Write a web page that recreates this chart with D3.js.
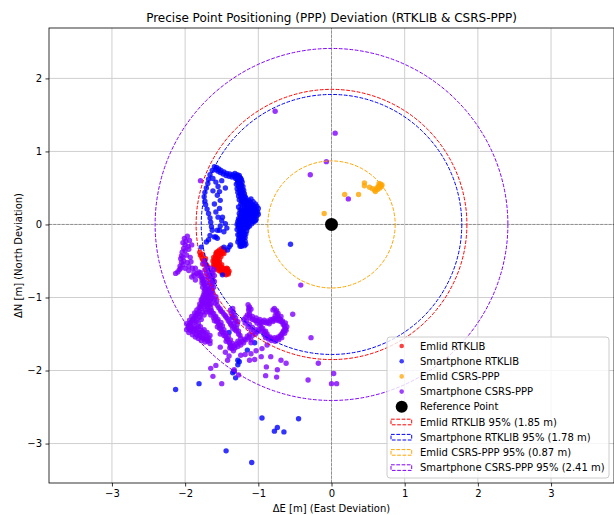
<!DOCTYPE html>
<html>
<head>
<meta charset="utf-8">
<script src="https://cdn.jsdelivr.net/npm/d3@7"></script>
<style>
  body { margin: 0; background: #fff; }
  svg { font-family: "DejaVu Sans", sans-serif; }
</style>
</head>
<body>
<div id="chart"></div>
<script>
// deviations in metres, [east, north]
const emlidRtk = [
  [-1.46,-0.36],[-1.48,-0.35],[-1.50,-0.36],[-1.52,-0.37],[-1.54,-0.39],[-1.56,-0.41],[-1.58,-0.43],
  [-1.59,-0.46],[-1.60,-0.49],[-1.60,-0.52],[-1.59,-0.55],[-1.57,-0.58],[-1.55,-0.60],[-1.52,-0.62],
  [-1.49,-0.64],[-1.46,-0.66],[-1.43,-0.67],[-1.42,-0.64],[-1.49,-0.39],[-1.52,-0.41],[-1.55,-0.44],
  [-1.56,-0.47],[-1.57,-0.50],[-1.56,-0.53],[-1.54,-0.56],[-1.51,-0.58],[-1.48,-0.60],[-1.45,-0.61],
  [-1.43,-0.60],[-1.47,-0.40],[-1.51,-0.44],[-1.53,-0.48],[-1.53,-0.52],[-1.50,-0.55],[-1.44,-0.63],
  [-1.45,-0.68],[-1.41,-0.66],[-1.57,-0.38],[-1.55,-0.37],
  [-1.47,-0.34],[-1.50,-0.33],[-1.53,-0.35],[-1.56,-0.39],[-1.58,-0.40],[-1.61,-0.45],[-1.62,-0.50],
  [-1.61,-0.55],[-1.60,-0.58],[-1.57,-0.61],[-1.54,-0.63],[-1.51,-0.65],[-1.48,-0.67],[-1.44,-0.69],
  [-1.41,-0.68],[-1.40,-0.64],[-1.42,-0.61],[-1.55,-0.50],[-1.58,-0.47],
  [-1.80,-0.38],[-1.79,-0.42],[-1.77,-0.46],[-1.75,-0.49],[-1.73,-0.52],[-1.71,-0.55],[-1.69,-0.58],
  [-1.76,-0.41],[-1.72,-0.47]
];

const phoneRtk = [
  [-1.60,0.79],[-1.57,0.78],[-1.54,0.76],[-1.51,0.74],[-1.47,0.72],[-1.43,0.70],[-1.39,0.69],[-1.35,0.68],
  [-1.58,0.75],[-1.55,0.73],[-1.52,0.71],[-1.48,0.69],[-1.44,0.67],[-1.40,0.66],[-1.36,0.65],[-1.33,0.66],
  [-1.32,0.70],
  [-1.63,0.74],[-1.66,0.68],[-1.68,0.62],[-1.69,0.56],[-1.71,0.50],[-1.73,0.44],[-1.74,0.38],[-1.73,0.32],
  [-1.72,0.27],[-1.70,0.21],[-1.68,0.15],[-1.66,0.09],[-1.65,0.03],[-1.64,-0.03],[-1.63,-0.08],[-1.66,-0.15],
  [-1.68,-0.21],
  [-1.62,0.63],[-1.58,0.58],[-1.55,0.52],[-1.53,0.45],[-1.56,0.40],[-1.52,0.33],[-1.60,0.28],[-1.58,0.17],
  [-1.49,0.10],[-1.53,0.22],[-1.45,0.01],[-1.50,0.05],[-1.56,-0.08],[-1.47,-0.10],[-1.58,-0.17],[-1.52,-0.02],
  [-1.62,0.46],[-1.50,0.60],[-1.45,0.50],[-1.55,0.10],[-1.43,-0.05],[-1.40,-0.31],[-1.42,-0.35],[-1.38,-0.28],
  [-1.30,0.66],[-1.27,0.65],[-1.29,0.62],[-1.26,0.60],[-1.28,0.57],[-1.25,0.55],[-1.27,0.52],[-1.24,0.50],
  [-1.26,0.47],[-1.23,0.45],[-1.25,0.42],[-1.22,0.40],[-1.24,0.37],[-1.21,0.35],[-1.23,0.32],[-1.20,0.30],
  [-1.18,0.33],[-1.15,0.31],[-1.13,0.33],[-1.11,0.30],[-1.09,0.27],[-1.12,0.26],[-1.07,0.24],[-1.05,0.22],
  [-1.03,0.20],[-1.06,0.18],[-1.04,0.15],[-1.02,0.12],[-1.05,0.10],[-1.08,0.08],[-1.10,0.12],[-1.13,0.15],
  [-1.16,0.20],[-1.19,0.25],[-1.22,0.27],[-1.17,0.12],[-1.20,0.08],[-1.23,0.05],[-1.26,0.03],[-1.28,0.04],
  [-1.25,0.00],[-1.22,-0.02],[-1.19,0.00],[-1.16,-0.01],[-1.13,0.02],[-1.10,0.05],[-1.14,0.08],[-1.27,-0.04],
  [-1.24,-0.06],[-1.26,-0.10],[-1.23,-0.12],[-1.20,-0.10],[-1.19,-0.14],[-1.22,-0.16],[-1.25,-0.18],[-1.24,-0.21],
  [-1.21,-0.20],[-1.23,-0.24],[-1.20,-0.26],[-1.22,-0.28],[-1.25,-0.27],[-1.18,-0.05],[-1.12,0.20],[-1.08,0.17],
  [-1.15,0.25],[-1.28,0.60],[-1.31,0.63],[-1.24,0.28],[-1.17,0.05],
  [-1.29,0.68],[-1.26,0.67],[-1.24,0.63],[-1.22,0.58],[-1.30,0.55],[-1.21,0.52],[-1.29,0.49],[-1.20,0.47],
  [-1.28,0.44],[-1.19,0.42],[-1.27,0.39],[-1.18,0.38],[-1.26,0.34],[-1.17,0.36],[-1.10,0.35],[-1.07,0.31],
  [-1.04,0.28],[-1.02,0.25],[-1.00,0.22],[-1.01,0.17],[-1.00,0.14],[-1.03,0.07],[-1.06,0.04],[-1.09,0.01],
  [-1.12,-0.02],[-1.15,-0.05],[-1.16,-0.09],[-1.17,-0.13],[-1.18,-0.18],[-1.18,-0.23],[-1.19,-0.29],[-1.25,-0.30],
  [-1.28,-0.24],[-1.28,-0.14],[-1.29,-0.07],[-1.29,0.00],[-1.27,0.08],[-1.25,0.12],[-1.22,0.15],[-1.19,0.18],
  [-1.25,0.20],[-1.27,0.24],[-1.14,0.28],[-1.19,0.31],[-1.16,0.14],[-1.13,0.10],[-1.07,0.12],[-1.09,0.21],
  [-1.21,0.11],[-1.21,-0.06],[-1.24,-0.02],
  [-1.28,0.66],[-1.25,0.64],[-1.23,0.61],[-1.26,0.58],[-1.24,0.55],[-1.23,0.53],[-1.25,0.49],[-1.22,0.47],
  [-1.24,0.44],[-1.21,0.43],[-1.23,0.40],[-1.20,0.38],[-1.22,0.35],[-1.19,0.34],[-1.21,0.31],[-1.17,0.30],
  [-1.14,0.30],[-1.16,0.27],[-1.13,0.28],[-1.10,0.28],[-1.11,0.24],[-1.08,0.23],[-1.05,0.25],[-1.06,0.20],
  [-1.09,0.19],[-1.11,0.17],[-1.14,0.18],[-1.18,0.18],[-1.21,0.19],[-1.23,0.21],[-1.19,0.22],[-1.16,0.23],
  [-1.13,0.22],[-1.03,0.17],[-1.06,0.14],[-1.09,0.14],[-1.11,0.10],[-1.14,0.11],[-1.18,0.15],[-1.23,0.17],
  [-1.26,0.15],[-1.24,0.10],[-1.19,0.11],[-1.18,0.07],[-1.15,0.04],[-1.12,0.06],[-1.08,0.04],[-1.04,0.05],
  [-1.26,0.06],[-1.23,0.02],[-1.20,0.04],[-1.17,0.01],[-1.14,-0.03],[-1.27,-0.01],[-1.24,-0.09],[-1.21,-0.13],
  [-1.26,-0.14],[-1.22,-0.09],[-1.20,-0.18],[-1.27,-0.20],[-1.21,-0.24],[-1.25,-0.23],[-1.17,-0.27],[-1.23,-0.30],
  [-1.78,-0.31],[-1.71,-0.24],[-1.60,-0.17],[-1.56,-0.19],[-1.47,-0.31],[-1.53,-0.08],[-1.49,-0.69],
  [-0.56,-0.27],[-2.13,-2.26],[-1.81,-2.18],[-0.95,-2.65],[-0.45,-2.66],[-0.74,-2.78],[-0.78,-2.83],
  [-0.65,-2.84],[-1.44,-3.10],[-1.09,-3.26],[-1.31,-2.10],[-1.35,-2.03],[-1.26,-1.88],[-1.28,-1.92],
  [-1.33,-2.01],[-1.28,-1.86],[-1.35,-1.27],[-1.15,-1.72],[-1.05,-1.62],[-1.40,-1.48]
];

const emlidPpp = [
  [-0.10,0.15],[0.18,0.41],[0.37,0.41],[0.45,0.57],[0.45,0.53],[0.52,0.51],[0.56,0.49],[0.59,0.47],
  [0.60,0.45],[0.62,0.50],[0.65,0.56],[0.66,0.53],[0.68,0.52],[0.67,0.55],[0.64,0.52],[0.63,0.48],
  [0.66,0.50],[0.69,0.54]
];

const phonePpp = [
  [0.05,1.25],[-0.07,0.86],[-0.29,0.68],[0.23,0.35],[-0.77,1.55],[-1.79,0.60],[-0.42,-0.83],[-0.53,-1.23],
  [-1.62,-2.08],[-1.50,-2.18],[-0.90,-2.07],[-0.75,-2.09],[-0.32,-2.13],[0.03,-2.04],[0.00,-2.18],[0.07,-2.18],
  [-1.27,-2.06],[-1.24,-1.79],[-1.10,-1.77],[-1.03,-1.73],[-0.96,-1.81],[-0.83,-1.81],[-0.69,-1.86],[-0.62,-1.90],
  [-1.12,-1.86],[-1.42,-1.86],[-1.58,-1.93],[-1.65,-1.97],[-1.33,-1.99],[-0.89,-1.95],[-0.74,-1.99],[-0.28,-1.55],
  [-0.18,-1.90],[-1.86,-0.76],[-1.81,-0.65],
  [-2.01,-0.19],[-1.99,-0.23],[-2.00,-0.28],[-2.02,-0.33],[-2.04,-0.38],[-2.05,-0.43],[-2.06,-0.47],[-2.05,-0.52],
  [-2.07,-0.57],[-2.08,-0.62],[-2.10,-0.65],[-2.13,-0.67],[-1.97,-0.16],[-1.94,-0.22],[-1.91,-0.28],[-1.95,-0.34],
  [-1.93,-0.45],[-1.92,-0.51],[-1.95,-0.57],[-1.95,-0.63],[-1.86,-0.60],[-1.84,-0.67],[-1.91,-0.72],[-1.88,-0.66],
  [-2.00,-0.60],[-1.98,-0.42],
  [-2.03,-0.25],[-1.96,-0.30],[-2.00,-0.36],[-2.03,-0.45],[-2.02,-0.50],[-2.03,-0.55],[-2.06,-0.60],[-1.97,-0.52],
  [-1.90,-0.60],[-1.88,-0.70],[-1.82,-0.70],
  [-1.79,-0.66],[-1.77,-0.70],[-1.76,-0.74],[-1.75,-0.78],[-1.74,-0.83],[-1.72,-0.87],[-1.71,-0.92],[-1.72,-0.97],
  [-1.74,-1.01],[-1.76,-1.06],[-1.77,-1.10],[-1.78,-1.15],[-1.81,-1.19],[-1.85,-1.23],[-1.88,-1.28],[-1.91,-1.33],
  [-1.94,-1.37],[-1.96,-1.41],[-1.93,-1.45],[-1.89,-1.47],[-1.85,-1.50],[-1.81,-1.52],[-1.77,-1.55],[-1.73,-1.57],
  [-1.69,-1.60],[-1.66,-1.59],
  [-1.73,-0.75],[-1.71,-0.80],[-1.69,-0.85],[-1.68,-0.90],[-1.69,-0.95],[-1.72,-1.03],[-1.74,-1.08],[-1.75,-1.13],
  [-1.79,-1.23],[-1.84,-1.29],[-1.88,-1.35],[-1.92,-1.40],[-1.90,-1.42],[-1.85,-1.45],[-1.80,-1.48],[-1.75,-1.51],
  [-1.71,-1.55],[-1.82,-1.40],[-1.78,-1.45],
  [-1.78,-0.72],[-1.77,-0.80],[-1.76,-0.86],[-1.74,-0.92],[-1.75,-0.97],[-1.78,-1.03],[-1.80,-1.09],[-1.81,-1.14],
  [-1.84,-1.17],[-1.87,-1.21],[-1.91,-1.26],[-1.94,-1.31],[-1.98,-1.36],[-1.98,-1.44],[-1.95,-1.48],[-1.90,-1.51],
  [-1.86,-1.54],[-1.82,-1.56],[-1.78,-1.59],[-1.73,-1.61],[-1.70,-0.98],[-1.70,-1.05],[-1.71,-1.10],[-1.72,-1.17],
  [-1.76,-1.20],[-1.80,-1.27],[-1.85,-1.33],[-1.87,-1.40],[-1.84,-1.42],[-1.76,-1.47],[-1.72,-1.50],[-1.68,-1.55],
  [-1.66,-1.63],
  [-1.77,-0.76],[-1.74,-0.81],[-1.73,-0.89],[-1.73,-0.95],[-1.76,-1.00],[-1.77,-1.05],[-1.79,-1.12],[-1.82,-1.22],
  [-1.86,-1.26],[-1.90,-1.31],[-1.93,-1.35],[-1.95,-1.39],[-1.94,-1.43],[-1.88,-1.44],[-1.83,-1.48],[-1.79,-1.53],
  [-1.75,-1.56],[-1.70,-1.58],
  [-1.67,-0.80],[-1.67,-0.88],[-1.68,-0.96],[-1.69,-1.01],[-1.70,-1.12],[-1.71,-1.20],[-1.74,-1.24],[-1.78,-1.30],
  [-1.82,-1.35],[-1.79,-1.40],[-1.74,-1.44],[-1.70,-1.48],[-1.66,-1.52],
  [-1.74,-0.50],[-1.72,-0.55],[-1.70,-0.60],[-1.68,-0.65],[-1.67,-0.70],[-1.66,-0.75],
  [-1.76,-0.54],[-1.73,-0.62],[-1.71,-0.67],[-1.69,-0.72],
  [-1.65,-0.60],[-1.64,-0.66],[-1.63,-0.72],[-1.63,-0.79],[-1.64,-0.85],[-1.65,-0.92],[-1.66,-0.98],[-1.67,-1.04],
  [-1.68,-1.09],[-1.69,-1.15],[-1.67,-1.20],[-1.65,-1.24],[-1.61,-1.28],[-1.57,-1.33],[-1.54,-1.37],[-1.53,-1.42],
  [-1.50,-1.47],[-1.47,-1.52],[-1.43,-1.56],[-1.40,-1.61],[-1.38,-1.66],[-1.36,-1.70],[-1.32,-1.69],[-1.28,-1.67],
  [-1.24,-1.65],[-1.20,-1.62],[-1.17,-1.58],[-1.13,-1.55],[-1.10,-1.58],[-1.10,-1.62],[-1.08,-1.52],[-1.24,-1.56],
  [-1.28,-1.60],
  [-1.61,-0.62],[-1.60,-0.70],[-1.60,-0.78],[-1.61,-0.86],[-1.62,-0.94],[-1.63,-1.01],[-1.64,-1.08],[-1.65,-1.14],
  [-1.64,-1.18],[-1.61,-1.22],[-1.58,-1.26],[-1.55,-1.30],[-1.51,-1.34],[-1.49,-1.39],[-1.47,-1.44],[-1.44,-1.49],
  [-1.41,-1.53],[-1.38,-1.58],[-1.35,-1.63],[-1.33,-1.66],[-1.30,-1.64],[-1.26,-1.62],[-1.22,-1.60],[-1.19,-1.57],
  [-1.15,-1.53],[-1.12,-1.51],[-1.34,-1.73],[-1.39,-1.69],[-1.44,-1.60],[-1.52,-1.50],[-1.56,-1.40],[-1.60,-1.32],
  [-1.62,-0.66],[-1.62,-0.76],[-1.63,-0.82],[-1.63,-0.90],[-1.64,-0.96],[-1.65,-1.03],[-1.66,-1.10],[-1.66,-1.17],
  [-1.63,-1.21],[-1.59,-1.27],[-1.56,-1.32],[-1.52,-1.38],[-1.51,-1.43],[-1.48,-1.48],[-1.45,-1.53],[-1.42,-1.58],
  [-1.39,-1.63],[-1.37,-1.68],
  [-1.58,-0.99],[-1.57,-1.05],[-1.56,-1.11],[-1.52,-1.16],[-1.49,-1.20],[-1.45,-1.25],[-1.42,-1.29],[-1.39,-1.34],
  [-1.37,-1.38],[-1.33,-1.40],[-1.30,-1.42],[-1.29,-1.37],[-1.28,-1.33],[-1.31,-1.28],[-1.33,-1.24],[-1.35,-1.15],
  [-1.34,-1.20],[-1.30,-1.46],[-1.27,-1.50],
  [-1.60,-1.02],[-1.59,-1.08],[-1.54,-1.14],[-1.51,-1.19],[-1.47,-1.23],[-1.44,-1.27],[-1.41,-1.32],[-1.38,-1.36],
  [-1.35,-1.42],[-1.32,-1.44],[-1.27,-1.46],[-1.25,-1.52],[-1.31,-1.32],[-1.36,-1.28],[-1.37,-1.22],[-1.38,-1.17],
  [-1.33,-1.35],
  [-1.12,-1.13],[-1.13,-1.18],[-1.15,-1.24],[-1.11,-1.28],[-1.05,-1.31],[-1.00,-1.32],[-0.94,-1.33],[-0.89,-1.35],
  [-0.85,-1.36],[-0.80,-1.33],[-0.76,-1.31],[-0.72,-1.32],[-0.69,-1.33],[-0.66,-1.37],[-0.64,-1.40],[-0.65,-1.45],
  [-0.67,-1.49],[-0.70,-1.53],[-0.74,-1.56],[-0.79,-1.57],[-0.83,-1.56],[-0.87,-1.54],[-0.89,-1.52],[-0.92,-1.47],
  [-0.96,-1.42],[-1.01,-1.47],[-1.04,-1.50],[-0.78,-1.15],[-0.76,-1.20],[-0.74,-1.24],[-0.72,-1.28],[-1.20,-1.30],
  [-1.18,-1.35],[-1.14,-1.40],[-1.10,-1.44],[-1.06,-1.47],[-0.98,-1.38],
  [-1.14,-1.10],[-1.10,-1.16],[-1.12,-1.22],[-1.08,-1.26],[-1.03,-1.28],[-0.98,-1.30],[-0.92,-1.31],[-0.87,-1.32],
  [-0.83,-1.30],[-0.79,-1.29],[-0.74,-1.29],[-0.70,-1.30],[-0.67,-1.32],[-0.63,-1.35],[-0.61,-1.40],[-0.62,-1.45],
  [-0.64,-1.49],[-0.68,-1.55],[-0.72,-1.58],[-0.77,-1.60],[-0.82,-1.59],[-0.86,-1.57],[-0.90,-1.55],[-0.92,-1.51],
  [-0.95,-1.46],[-0.99,-1.44],[-1.03,-1.44],[-1.17,-1.27],[-1.16,-1.32],[-1.12,-1.37],[-1.08,-1.41],[-1.02,-1.35],
  [-0.96,-1.36],[-0.75,-1.18],[-0.73,-1.22],[-0.80,-1.17],[-0.77,-1.25],[-0.69,-1.26],
  [-1.13,-1.15],[-1.12,-1.25],[-1.08,-1.30],[-1.03,-1.32],[-0.97,-1.34],[-0.91,-1.34],[-0.86,-1.34],[-0.81,-1.31],
  [-0.76,-1.28],[-0.71,-1.30],[-0.67,-1.34],[-0.64,-1.38],[-0.63,-1.43],[-0.66,-1.47],[-0.69,-1.51],[-0.73,-1.54],
  [-0.78,-1.55],[-0.84,-1.54],[-0.88,-1.50],[-0.90,-1.46],[-0.94,-1.42],
  [-1.45,-1.75],[-1.52,-1.68],[-1.18,-1.78],[-1.05,-1.85],[-1.40,-1.80],[-0.95,-1.70],[-0.88,-1.65]
];

const seriesNames = ["Emlid RTKLIB", "Smartphone RTKLIB", "Emlid CSRS-PPP", "Smartphone CSRS-PPP"];
const seriesColors = ["#ff0000", "#0000ff", "#ffa500", "#8000ff"];
const radii95 = [1.85, 1.78, 0.87, 2.41];
const xTicks = [-3, -2, -1, 0, 1, 2, 3];
const yTicks = [-3, -2, -1, 0, 1, 2];

const W = 614, H = 515;
const margin = { left: 49, top: 28, right: 0, bottom: 32 };

const svg = d3.select("#chart").append("svg")
    .attr("width", W)
    .attr("height", H);

const x = d3.scaleLinear().domain([-3.86, 3.86]).range([margin.left, W - margin.right]);
const y = d3.scaleLinear().domain([-3.54, 2.69]).range([H - margin.bottom, margin.top]);

svg.append("defs").append("clipPath").attr("id", "plot-clip")
    .append("rect")
    .attr("x", x.range()[0]).attr("y", y.range()[1])
    .attr("width", x.range()[1] - x.range()[0])
    .attr("height", y.range()[0] - y.range()[1]);

// grid
const grid = svg.append("g");
grid.selectAll(".gx").data(xTicks).enter().append("line")
    .attr("x1", d => x(d)).attr("x2", d => x(d))
    .attr("y1", y.range()[0]).attr("y2", y.range()[1])
    .attr("stroke", "#cfcfcf").attr("stroke-width", 1);
grid.selectAll(".gy").data(yTicks).enter().append("line")
    .attr("y1", d => y(d)).attr("y2", d => y(d))
    .attr("x1", x.range()[0]).attr("x2", x.range()[1])
    .attr("stroke", "#cfcfcf").attr("stroke-width", 1);

// zero lines
svg.append("line")
    .attr("x1", x.range()[0]).attr("x2", x.range()[1])
    .attr("y1", y(0)).attr("y2", y(0))
    .attr("stroke", "#808080").attr("stroke-width", 0.8)
    .attr("stroke-dasharray", "2.96,1.28");
svg.append("line")
    .attr("x1", x(0)).attr("x2", x(0))
    .attr("y1", y.range()[0]).attr("y2", y.range()[1])
    .attr("stroke", "#808080").attr("stroke-width", 0.8)
    .attr("stroke-dasharray", "2.96,1.28");

const plot = svg.append("g").attr("clip-path", "url(#plot-clip)");

[emlidRtk, phoneRtk, emlidPpp, phonePpp].forEach((pts, i) => {
    plot.append("g").selectAll("circle").data(pts).enter().append("circle")
        .attr("cx", d => x(d[0]))
        .attr("cy", d => y(d[1]))
        .attr("r", 2.7)
        .attr("fill", seriesColors[i])
        .attr("fill-opacity", 0.8);
});

// reference point
plot.append("circle")
    .attr("cx", x(0)).attr("cy", y(0))
    .attr("r", 6.5)
    .attr("fill", "#000");

// 95% circles
radii95.forEach((r, i) => {
    plot.append("ellipse")
        .attr("cx", x(0)).attr("cy", y(0))
        .attr("rx", x(r) - x(0))
        .attr("ry", y(0) - y(r))
        .attr("fill", "none")
        .attr("stroke", seriesColors[i])
        .attr("stroke-width", 1)
        .attr("stroke-dasharray", "3.7,1.6");
});

// axes
const fmt = d3.format("d");
const xAxis = svg.append("g")
    .attr("transform", `translate(0,${y.range()[0]})`)
    .call(d3.axisBottom(x).tickValues(xTicks).tickFormat(fmt).tickSize(3.5).tickPadding(3.5));
const yAxis = svg.append("g")
    .attr("transform", `translate(${x.range()[0]},0)`)
    .call(d3.axisLeft(y).tickValues(yTicks).tickFormat(fmt).tickSize(3.5).tickPadding(3.5));
[xAxis, yAxis].forEach(a => {
    a.select(".domain").remove();
    a.selectAll("text").attr("font-size", 10).attr("font-family", "DejaVu Sans").attr("fill", "#000");
    a.selectAll("line").attr("stroke", "#000").attr("stroke-width", 0.8);
});

// frame
svg.append("rect")
    .attr("x", x.range()[0]).attr("y", y.range()[1])
    .attr("width", x.range()[1] - x.range()[0])
    .attr("height", y.range()[0] - y.range()[1])
    .attr("fill", "none").attr("stroke", "#000").attr("stroke-width", 0.8);

// labels
svg.append("text")
    .attr("x", (x.range()[0] + x.range()[1]) / 2).attr("y", 21.5)
    .attr("text-anchor", "middle").attr("font-size", 12)
    .text("Precise Point Positioning (PPP) Deviation (RTKLIB & CSRS-PPP)");
svg.append("text")
    .attr("x", (x.range()[0] + x.range()[1]) / 2).attr("y", 511.5)
    .attr("text-anchor", "middle").attr("font-size", 10)
    .text("ΔE [m] (East Deviation)");
svg.append("text")
    .attr("transform", `translate(21.5,${(y.range()[0] + y.range()[1]) / 2}) rotate(-90)`)
    .attr("text-anchor", "middle").attr("font-size", 10)
    .text("ΔN [m] (North Deviation)");

// legend
const legendItems = [
    ...seriesNames.map((n, i) => ({ label: n, kind: "dot", color: seriesColors[i] })),
    { label: "Reference Point", kind: "ref", color: "#000" },
    ...seriesNames.map((n, i) => ({ label: `${n} 95% (${radii95[i].toFixed(2)} m)`, kind: "ring", color: seriesColors[i] }))
];

const legend = svg.append("g").attr("transform", "translate(387,337)");
legend.append("rect")
    .attr("width", 222).attr("height", 141).attr("rx", 3)
    .attr("fill", "#fff").attr("fill-opacity", 0.8)
    .attr("stroke", "#cccccc").attr("stroke-width", 1);

const rows = legend.selectAll(".row").data(legendItems).enter().append("g")
    .attr("transform", (d, i) => `translate(0,${9 + i * 15.2})`);
rows.filter(d => d.kind === "dot").append("circle")
    .attr("cx", 14.7).attr("r", 2.3)
    .attr("fill", d => d.color).attr("fill-opacity", 0.75);
rows.filter(d => d.kind === "ref").append("circle")
    .attr("cx", 14.7).attr("r", 6)
    .attr("fill", "#000");
rows.filter(d => d.kind === "ring").append("rect")
    .attr("x", 4).attr("y", -2.8).attr("width", 20.7).attr("height", 5.6)
    .attr("fill", "none").attr("stroke", d => d.color).attr("stroke-width", 1)
    .attr("stroke-dasharray", "3.7,1.6");
rows.append("text")
    .attr("x", 33).attr("dy", "0.35em")
    .attr("font-size", 10)
    .text(d => d.label);
</script>
</body>
</html>
